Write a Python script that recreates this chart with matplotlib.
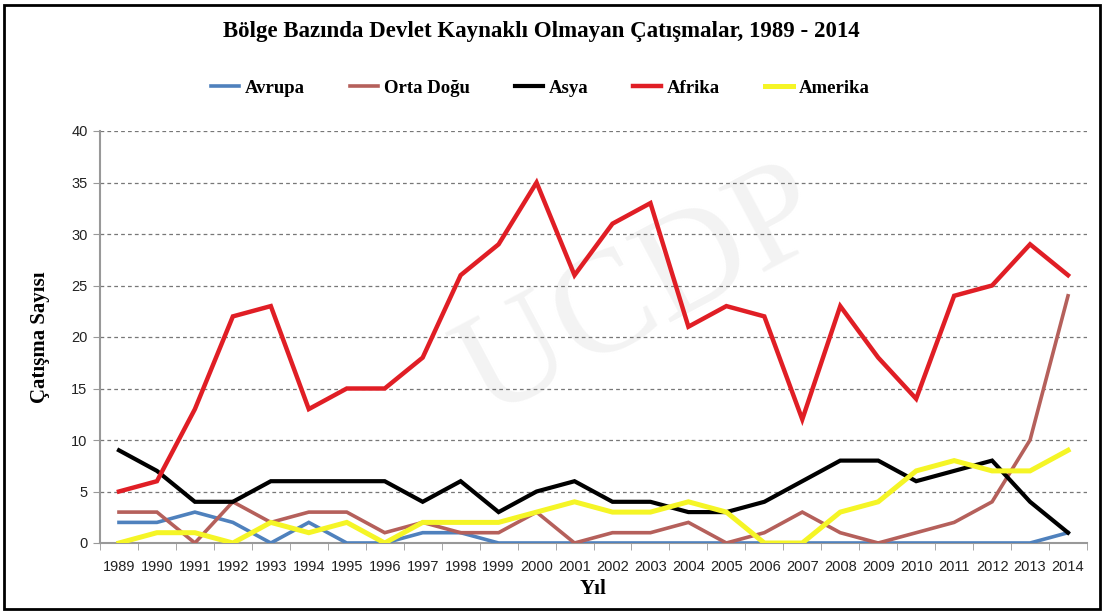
import matplotlib.pyplot as plt
from matplotlib.patches import Rectangle

# data
years = [str(y) for y in range(1989, 2015)]
avrupa = [2, 2, 3, 2, 0, 2, 0, 0, 1, 1, 0, 0, 0, 0, 0, 0, 0, 0, 0, 0, 0, 0, 0, 0, 0, 1]
orta_dogu = [3, 3, 0, 4, 2, 3, 3, 1, 2, 1, 1, 3, 0, 1, 1, 2, 0, 1, 3, 1, 0, 1, 2, 4, 10, 24]
asya = [9, 7, 4, 4, 6, 6, 6, 6, 4, 6, 3, 5, 6, 4, 4, 3, 3, 4, 6, 8, 8, 6, 7, 8, 4, 1]
afrika = [5, 6, 13, 22, 23, 13, 15, 15, 18, 26, 29, 35, 26, 31, 33, 21, 23, 22, 12, 23, 18, 14, 24, 25, 29, 26]
amerika = [0, 1, 1, 0, 2, 1, 2, 0, 2, 2, 2, 3, 4, 3, 3, 4, 3, 0, 0, 3, 4, 7, 8, 7, 7, 9]

series = [
    ("Avrupa", avrupa, "#4F81BD", 2.6),
    ("Orta Doğu", orta_dogu, "#B5605B", 2.6),
    ("Asya", asya, "#000000", 3.0),
    ("Afrika", afrika, "#E01E25", 3.2),
    ("Amerika", amerika, "#F5F526", 3.6),
]

SERIF = ["Liberation Serif", "DejaVu Serif"]
TICKFONT = ["Liberation Sans Narrow", "Liberation Sans", "DejaVu Sans"]

fig = plt.figure(figsize=(11.05, 6.13), dpi=100)
ax = fig.add_axes([100 / 1105, 70 / 613, 987 / 1105, 412 / 613])

x = list(range(len(years)))
for name, vals, col, lw in series:
    ax.plot(x, vals, color=col, lw=lw, label=name, solid_joinstyle="miter", zorder=3)

ax.set_xlim(-0.5, len(years) - 0.5)
ax.set_ylim(0, 40)
ax.set_yticks(range(0, 41, 5))
ax.set_xticks(x)
ax.set_xticklabels(years, family=TICKFONT, fontsize=10.5, color="#222222")
ax.set_xticks([i - 0.5 for i in range(len(years) + 1)], minor=True)
ax.tick_params(axis="x", which="major", length=0, pad=12)
ax.tick_params(axis="x", which="minor", length=5, color="#999999", direction="out")
ax.tick_params(axis="y", length=5, color="#999999", labelsize=10.5, pad=4)
for lab in ax.get_yticklabels():
    lab.set_family(TICKFONT)
    lab.set_color("#222222")

ax.grid(axis="y", color="#777777", linestyle=(0, (3, 2.5)), lw=0.9, zorder=1)
for s in ["top", "right"]:
    ax.spines[s].set_visible(False)
ax.spines["left"].set_color("#999999")
ax.spines["bottom"].set_color("#999999")
ax.spines["left"].set_linewidth(1.5)
ax.spines["bottom"].set_linewidth(1.5)

ax.set_ylabel("Çatışma Sayısı", family=SERIF, fontweight="bold", fontsize=15, labelpad=15)
ax.set_xlabel("Yıl", family=SERIF, fontweight="bold", fontsize=15, labelpad=4)

# faint watermark
ax.text(0.55, 0.6, "UCDP", transform=ax.transAxes, fontsize=105, family=SERIF,
        color="#F3F3F3", rotation=28, ha="center", va="center", zorder=0)

fig.text(0.49, 1 - 32 / 613, "Bölge Bazında Devlet Kaynaklı Olmayan Çatışmalar, 1989 - 2014",
         family=SERIF, fontweight="bold", fontsize=16.5, ha="center", va="center")

leg = fig.legend(loc="center", bbox_to_anchor=(0.489, 1 - 88 / 613), ncol=5, frameon=False,
                 prop={"family": SERIF, "weight": "bold", "size": 13.5},
                 handlelength=1.5, columnspacing=2.4, handletextpad=0.3)

fig.patches.append(Rectangle((4 / 1105, 4 / 613), 1096 / 1105, 604 / 613, transform=fig.transFigure,
                             fill=False, edgecolor="black", lw=2))

fig.savefig("out.png", dpi=100)
